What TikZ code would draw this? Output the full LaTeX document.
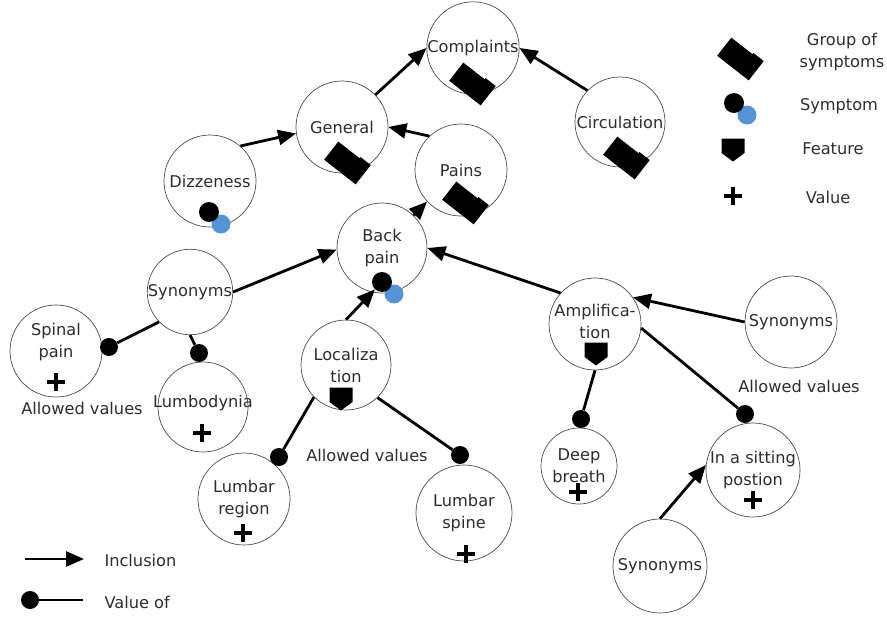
\documentclass[tikz,border=0pt]{standalone}
\usepackage{fontspec}
\setmainfont{DejaVu Sans}
\usetikzlibrary{arrows.meta}
\definecolor{txt}{RGB}{45,45,45}
\definecolor{symblue}{RGB}{84,148,212}
\tikzset{
  grpsym/.pic={\fill[black,rotate=-38] (-20,-11.5) -- (7,-11.5) -- (7,-13) -- (20,-13) -- (20,11.5) -- (-20,11.5) -- cycle;},
  featsym/.pic={\fill[black] (-11.5,-11.5) -- (11.5,-11.5) -- (11.5,3) -- (0,11.5) -- (-11.5,3) -- cycle;},
  valsym/.pic={\fill[black] (-9,-2) rectangle (9,2); \fill[black] (-2,-9) rectangle (2,9);},
}
\begin{document}
\begin{tikzpicture}[x=1pt,y=-1pt,
  every node/.style={font=\fontsize{16.2}{22}\selectfont, text=txt, align=center},
  cnode/.style={circle, draw=black!70, line width=0.7pt, inner sep=0pt, minimum size=#1},
  cnode/.default=90pt,
  incl/.style={line width=2.8pt, -{Triangle[length=18pt,width=15pt]}},
  valof/.style={line width=2.8pt},
  vdot/.style={circle, fill=black, inner sep=0pt, minimum size=18pt},
  symdot/.style={circle, fill=black, inner sep=0pt, minimum size=20pt},
  bluedot/.style={circle, fill=symblue, inner sep=0pt, minimum size=19pt},
]
\useasboundingbox (0,0) rectangle (887,618);

% concept circles
\node[cnode=90pt] (complaints) at (473,48) {Complaints};
\node[cnode=92pt] (general) at (342,127) {General};
\node[cnode=92pt] (pains) at (461,170) {Pains};
\node[cnode=90pt] (circ) at (620,122) {Circulation};
\node[cnode=92pt] (dizz) at (210,181) {Dizzeness};
\node[cnode=90pt] (back) at (382,248) {Back\\pain};
\node[cnode=82pt] (synl) at (190,292) {Synonyms};
\node[cnode=92pt] (spinal) at (56,351) {};
\node (spinaltxt) at (56,342) {Spinal\\pain};
\node[cnode=90pt] (lumbo) at (203,407) {};
\node (lumbotxt) at (203,403) {Lumbodynia};
\node[cnode=90pt] (loc) at (346,365) {Localiza\\tion};
\node[cnode=92pt] (lreg) at (244,499) {Lumbar\\region};
\node[cnode=96pt] (lspine) at (464,513) {Lumbar\\spine};
\node[cnode=92pt] (ampl) at (595,324) {};
\node (ampltxt) at (595,321) {Amplifica-\\tion};
\node[cnode=92pt] (synr) at (791,322) {Synonyms};
\node[cnode=76pt] (deep) at (579,466) {Deep\\breath};
\node[cnode=94pt] (insit) at (753,470) {In a sitting\\postion};
\node[cnode=94pt] (synb) at (660,566) {Synonyms};

% group-of-symptoms marks
\pic at (472,84) {grpsym};
\pic at (347,163) {grpsym};
\pic at (465,203) {grpsym};
\pic at (626,158) {grpsym};

% symptom marks
\node[bluedot] (dizzblue) at (221,224) {};
\node[symdot] (dizzsym) at (209,212) {};
\node[bluedot] (backblue) at (394,294) {};
\node[symdot] (backsym) at (382,282) {};

% feature marks
\pic at (341,399) {featsym};
\pic at (596,354) {featsym};

% value marks
\pic at (56,382) {valsym};
\pic at (202,433) {valsym};
\pic at (243,533) {valsym};
\pic at (466,554) {valsym};
\pic at (578,492) {valsym};
\pic at (753,500) {valsym};

% inclusion arrows
\draw[incl] (general.44) -- (complaints.west);
\draw[incl] (circ.136) -- (complaints.east);
\draw[incl] (dizz.49) -- (general.188);
\draw[incl] (pains.133) -- (general.east);
\draw[incl] (back.46) -- (pains.223);
\draw[incl] (synl.east) -- (back.182);
\draw[incl] (ampl.138) -- (back.east);
\draw[incl] (loc.north) -- (backsym);
\draw[incl] (synr.west) -- (ampl.35);
\draw[incl] (synb.north) -- (insit.174);

% value-of links
\node[vdot] (d1) at (109,347) {};
\draw[valof] (synl.224) -- (d1);
\node[vdot] (d2) at (199,353) {};
\draw[valof] (synl.south) -- (d2);
\node[vdot] (d3) at (279,457) {};
\draw[valof] (loc.225) -- (d3);
\node[vdot] (d4) at (460,455) {};
\draw[valof] (loc.314) -- (d4);
\node[vdot] (d5) at (581,419) {};
\draw[valof] (ampl.south) -- (d5);
\node[vdot] (d6) at (745,414) {};
\draw[valof] (ampl.-5) -- (d6);

% labels
\node (av1) at (82,408) {Allowed values};
\node (av2) at (367,455) {Allowed values};
\node (av3) at (799,386) {Allowed values};

% legend right
\pic at (740,59) {grpsym};
\node (lgtxt) at (842,52) {Group of\\symptoms};
\node[bluedot] (lsblue) at (747,115) {};
\node[symdot] (lsym) at (734,103) {};
\node (lstxt) at (839,106) {Symptom};
\pic at (733,150) {featsym};
\node (lftxt) at (833,149) {Feature};
\pic at (733,196) {valsym};
\node (lvtxt) at (828,197) {Value};

% legend bottom
\coordinate (la1) at (25,559);
\coordinate (la2) at (84,559);
\draw[incl] (la1) -- (la2);
\node[anchor=west] (litxt) at (101,560) {Inclusion};
\node[vdot] (ld) at (30,600) {};
\coordinate (le) at (83,600);
\draw[valof] (ld) -- (le);
\node[anchor=west] (lvotxt) at (101,602) {Value of};
\end{tikzpicture}
\end{document}
